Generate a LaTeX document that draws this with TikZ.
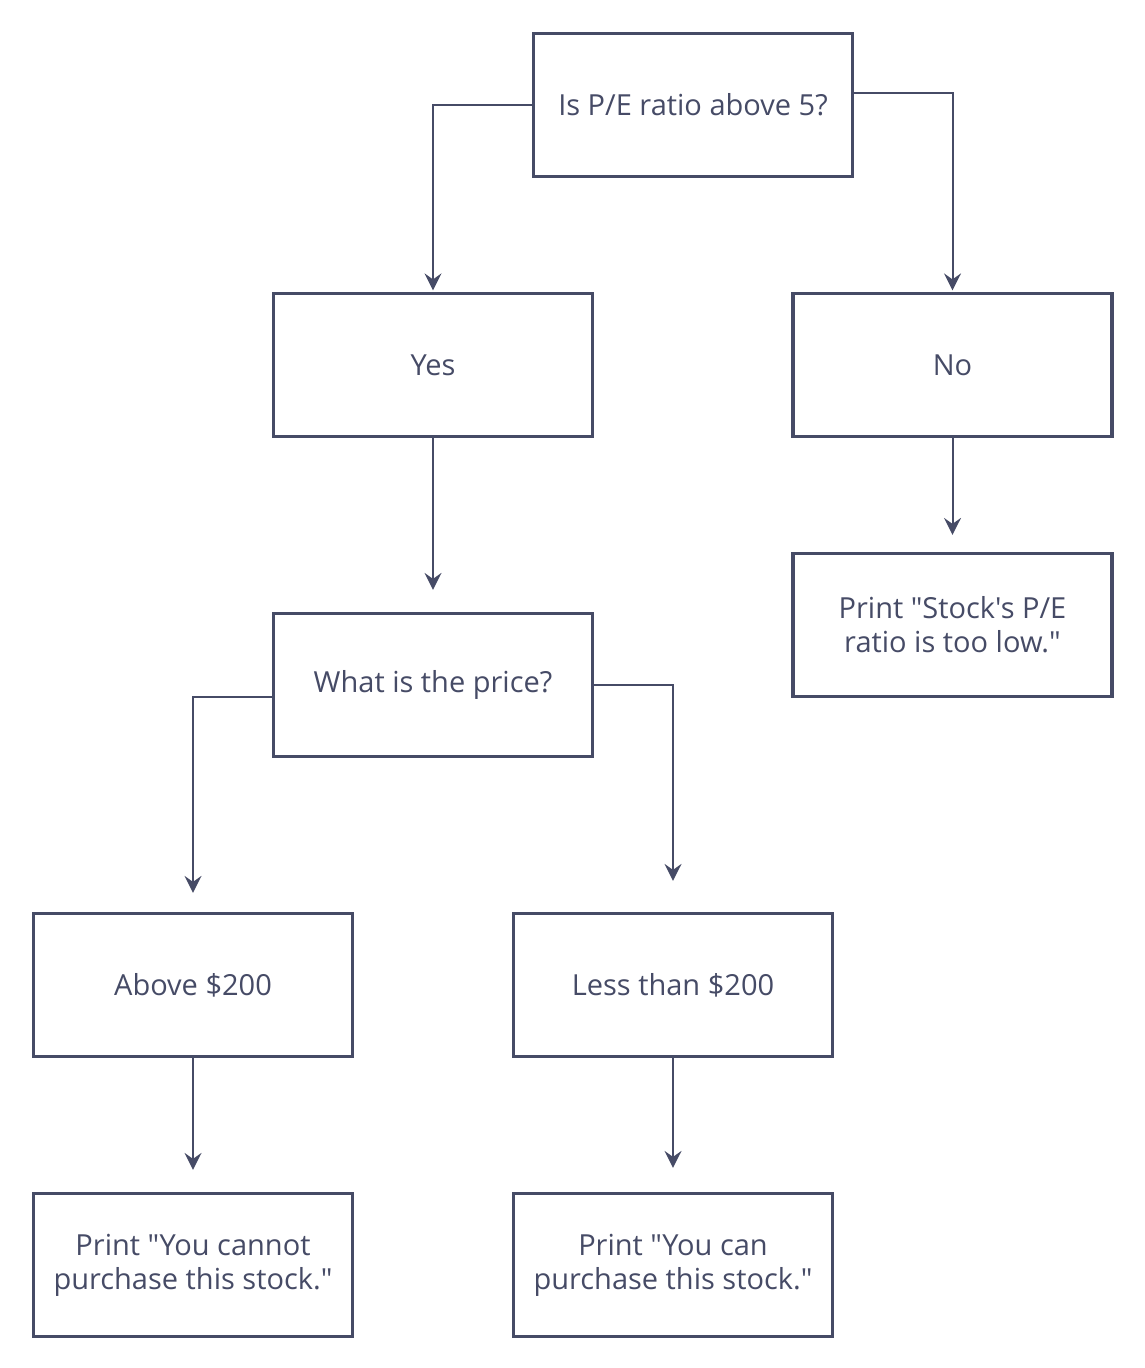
\documentclass[tikz,border=0pt]{standalone}
\usepackage{fontspec}
\setmainfont{Open Sans}[Ligatures=TeXOff]
\usetikzlibrary{arrows.meta}
\definecolor{ink}{RGB}{70,75,102}
\tikzset{
  box/.style={draw=ink, line width=3.2pt, minimum width=319pt, minimum height=143pt,
    inner sep=0pt, align=center, text=ink, font=\fontsize{29}{34}\selectfont, fill=white},
  arr/.style={draw=ink, line width=2pt, -{Stealth[length=17pt,width=17pt,inset=6pt]}},
}
\begin{document}
\begin{tikzpicture}[x=1pt,y=-1pt]
\useasboundingbox[fill=white] (0,0) rectangle (1144,1368);
\node[box] (top) at (693,105) {Is P/E ratio above 5?};
\node[box] (yes) at (433,365) {Yes};
\node[box] (no) at (952.5,365) {No};
\node[box] (pst) at (952.5,625) {Print "Stock's P/E\\ratio is too low."};
\node[box] (what) at (433,685) {What is the price?};
\node[box] (above) at (193,985) {Above \$200};
\node[box] (less) at (673,985) {Less than \$200};
\node[box] (cannot) at (193,1265) {Print "You cannot\\purchase this stock."};
\node[box] (can) at (673,1265) {Print "You can\\purchase this stock."};

\draw[arr, shorten >=1.5pt] (top.west) -| (yes.north);
\draw[arr, shorten >=1.5pt] ([yshift=12pt]top.east) -| (no.north);
\draw[arr, shorten >=22pt] (yes.south) -- (what.north);
\draw[arr, shorten >=17pt] (no.south) -- (pst.north);
\draw[arr, shorten >=19pt] ([yshift=-12pt]what.west) -| (above.north);
\draw[arr, shorten >=31pt] (what.east) -| (less.north);
\draw[arr, shorten >=22pt] (above.south) -- (cannot.north);
\draw[arr, shorten >=24pt] (less.south) -- (can.north);
\end{tikzpicture}
\end{document}
